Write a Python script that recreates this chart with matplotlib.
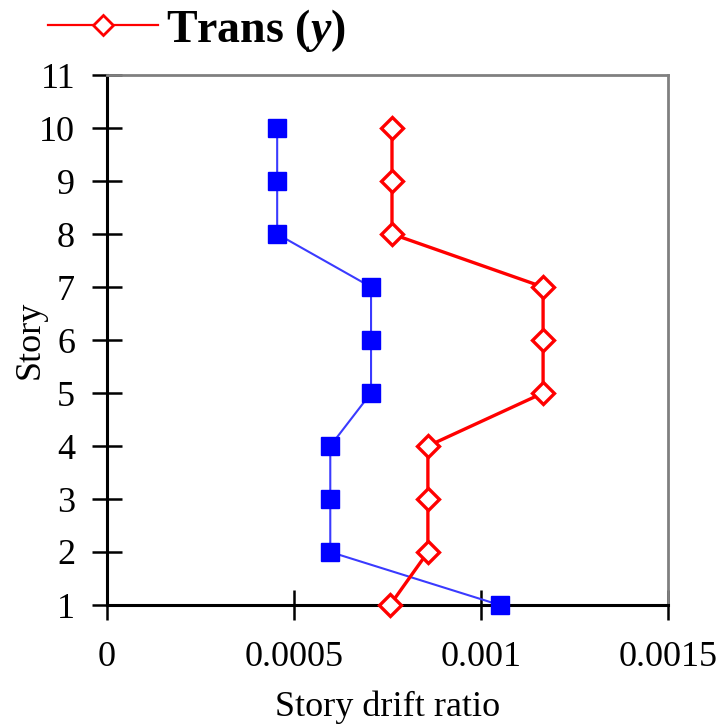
import matplotlib
matplotlib.use("Agg")
import matplotlib.pyplot as plt
from matplotlib.lines import Line2D

plt.rcParams['font.family'] = ['Liberation Serif', 'DejaVu Serif']
plt.rcParams['mathtext.fontset'] = 'custom'
plt.rcParams['mathtext.it'] = 'Liberation Serif:italic:bold'
plt.rcParams['mathtext.rm'] = 'Liberation Serif:bold'

stories = [1, 2, 3, 4, 5, 6, 7, 8, 9, 10]
long_x = [0.00105, 0.000597, 0.000597, 0.000597, 0.000706, 0.000706, 0.000706, 0.000455, 0.000455, 0.000455]
trans_y = [0.000757, 0.000858, 0.000858, 0.000858, 0.001166, 0.001166, 0.001166, 0.000762, 0.000762, 0.000762]
xticks = [0, 0.0005, 0.001, 0.0015]
xticklabels = ['0', '0.0005', '0.001', '0.0015']
yticks = list(range(1, 12))

fig = plt.figure(figsize=(7.26, 7.27), dpi=100)
ax = fig.add_axes([107/726, 1-605/727, (668-107)/726, (605-75)/727])

ax.plot(long_x, stories, color='#3a3aff', lw=1.5, marker='s', ms=13,
        mfc='#0000ff', mec='#0000ff', mew=1, zorder=3, clip_on=False)
ax.plot(trans_y, stories, color='#ff0000', lw=2.4, marker='D', ms=11,
        mfc='white', mec='#ff0000', mew=2.4, zorder=4, clip_on=False)

ax.set_xlim(0, 0.0015)
ax.set_ylim(1, 11)
ax.set_xticks(xticks)
ax.set_xticklabels(xticklabels)
ax.set_yticks(yticks)
ax.tick_params(direction='inout', length=22, width=1.8, labelsize=26, color='black')
ax.tick_params(axis='x', pad=15)
ax.tick_params(axis='y', pad=12)

for s in ['left', 'bottom']:
    ax.spines[s].set_color('black')
    ax.spines[s].set_linewidth(2.2)
for s in ['top', 'right']:
    ax.spines[s].set_color('#808080')
    ax.spines[s].set_linewidth(2.0)

ax.set_xlabel('Story drift ratio', fontsize=26)
ax.set_ylabel('Story', fontsize=26)
ax.xaxis.set_label_coords(0.5, -(690-605)/530)
ax.yaxis.set_label_coords((47-107)/561, 0.5)

handle = Line2D([], [], color='#ff0000', lw=1.6, marker='D', ms=10,
                mfc='white', mec='#ff0000', mew=2)
fig.legend([handle], ['Trans ($y$)'], loc='center left',
           bbox_to_anchor=(48/726, 1-30/727), frameon=False,
           prop={'family': 'Liberation Serif', 'weight': 'bold', 'size': 33},
           handlelength=2.4, handletextpad=0.18, borderpad=0, borderaxespad=0)

fig.savefig('out.png', dpi=100)
